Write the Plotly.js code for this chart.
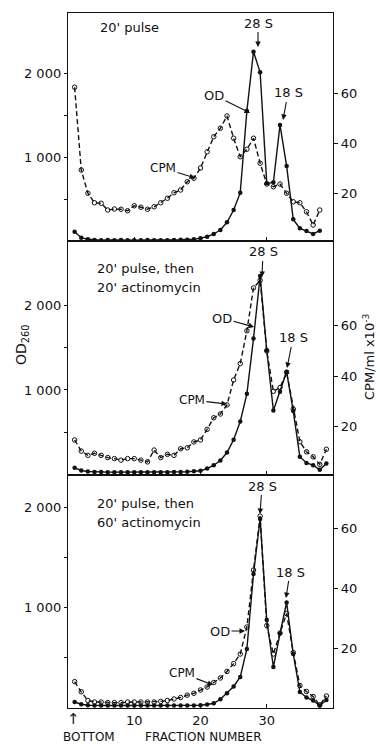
<!DOCTYPE html>
<html>
<head>
<meta charset="utf-8">
<script src="https://cdn.plot.ly/plotly-3.0.1.min.js"></script>
<style>html,body{margin:0;padding:0;background:#fff;}#chart{width:380px;height:746px;}</style>
</head>
<body>
<div id="chart"></div>
<script>
// ---- Data (fraction number, OD260, CPM/ml x10^-3) ----
const fractions = [1,2,3,4,5,6,7,8,9,10,11,12,13,14,15,16,17,18,19,20,21,22,23,24,25,26,27,28,29,30,31,32,33,34,35,36,37,38,39];

// Panel 1: 20' pulse (fractions 1-38)
const p1Fractions = fractions.slice(0, 38);
const p1OD  = [122,51,32,24,22,24,22,24,22,22,22,24,22,22,22,24,26,28,34,44,63,95,142,233,379,584,1550,2252,2008,694,706,1385,899,268,162,130,95,134];
const p1CPM = [62.3,29.2,19.9,16.1,15.9,13.2,13.6,13.5,12.9,14.9,14.3,13.5,14.5,16.1,17.9,20.1,21.2,24.5,25.9,30,36.5,42.5,45.9,50.8,41.9,34.5,37.5,41.9,31.9,23.6,22.5,23.6,19.9,16.5,16.1,12.5,7.2,13.2];

// Panel 2: 20' pulse, then 20' actinomycin (fractions 1-39)
const p2Fractions = fractions;
const p2OD  = [79,47,35,30,30,28,28,28,28,28,28,28,28,28,28,30,30,33,38,45,70,110,165,260,412,627,955,1608,2350,1470,757,980,1215,750,210,137,110,55,130];
const p2CPM = [14.7,10.3,8.6,9.4,8.6,7.7,7.3,6.7,7.3,7.3,6.7,6,10.7,7.7,9,8.6,11.2,11.6,13.9,14.7,18.9,23.5,25,28.6,38.5,45,58,75,78,50,34,35.5,41.5,27,14,10,8,5,11];

// Panel 3: 20' pulse, then 60' actinomycin (fractions 1-39)
const p3Fractions = fractions;
const p3OD  = [50,28,18,15,15,15,15,15,15,15,15,15,15,15,15,15,15,15,15,18,25,37,77,137,205,300,580,1330,1880,870,400,735,1045,530,150,95,65,15,70];
const p3CPM = [8.8,5.4,2.5,2,2,1.8,1.8,1.8,2,2,2,2,2,2.2,2.5,3,3.5,4.3,4.9,6,7,8.5,10,12.2,14.8,18,27,46,64,27.5,18,25,31.5,18.5,7.5,5.5,3.8,1,4];

// Axis ticks / labels
const xTickVals = [10, 20, 30];
const xTickText = ['10', '20', '30'];
const odTickVals = [1000, 2000];
const odTickText = ['1 000', '2 000'];
const odMinorTickVals = [500, 1500];
const cpmTickVals = [20, 40, 60];
const cpmTickText = ['20', '40', '60'];

// ---- Geometry helpers (pixel -> paper) ----
const W = 380, H = 746;
const L = 68, R = 333, T = 13, B = 708;
const px = x => (x - L) / (R - L);
const py = y => (B - y) / (B - T);

const FONT = 'DejaVu Sans, Liberation Sans, sans-serif';
const black = '#111';

function odTrace(x, y, xa, ya) {
  return {x: x, y: y, xaxis: xa, yaxis: ya, type: 'scatter', mode: 'lines+markers',
    line: {color: black, width: 1.4}, marker: {symbol: 'circle', size: 4.5, color: black},
    showlegend: false, hoverinfo: 'skip'};
}
function cpmTrace(x, y, xa, ya) {
  return {x: x, y: y, xaxis: xa, yaxis: ya, type: 'scatter', mode: 'lines+markers',
    line: {color: black, width: 1.4, dash: '5px,3px'},
    marker: {symbol: 'circle-open', size: 4.5, color: black, line: {width: 1, color: black}},
    showlegend: false, hoverinfo: 'skip'};
}

const data = [
  cpmTrace(p1Fractions, p1CPM, 'x', 'y2'),
  odTrace(p1Fractions, p1OD, 'x', 'y'),
  cpmTrace(p2Fractions, p2CPM, 'x2', 'y4'),
  odTrace(p2Fractions, p2OD, 'x2', 'y3'),
  cpmTrace(p3Fractions, p3CPM, 'x3', 'y6'),
  odTrace(p3Fractions, p3OD, 'x3', 'y5')
];

const d1 = [py(241), 1], d2 = [py(475), py(241)], d3 = [0, py(475)];

function xAxis(anchor, labels) {
  return {domain: [0, 1], anchor: anchor, range: [0, 40], showgrid: false, zeroline: false,
    showline: true, mirror: true, linecolor: black, linewidth: 1.2,
    ticks: 'inside', ticklen: 4, tickwidth: 1, tickcolor: black,
    tickvals: xTickVals, ticktext: xTickText, showticklabels: labels,
    tickfont: {family: FONT, size: 13, color: black}};
}
function odAxis(domain, range, anchor) {
  return {domain: domain, anchor: anchor, range: range, showgrid: false, zeroline: false,
    showline: true, linecolor: black, linewidth: 1.2,
    ticks: 'outside', ticklen: 3, tickwidth: 1, tickcolor: black,
    tickvals: odTickVals, ticktext: odTickText,
    minor: {tickvals: odMinorTickVals, ticks: 'outside', ticklen: 3, tickwidth: 1, tickcolor: black, showgrid: false},
    tickfont: {family: FONT, size: 13, color: black}};
}
function cpmAxis(domain, range, anchor, over) {
  return {domain: domain, anchor: anchor, overlaying: over, side: 'right', range: range,
    showgrid: false, zeroline: false, showline: true, linecolor: black, linewidth: 1.2,
    ticks: 'outside', ticklen: 4, tickwidth: 1, tickcolor: black,
    tickvals: cpmTickVals, ticktext: cpmTickText,
    tickfont: {family: FONT, size: 13, color: black}};
}

function label(text, x, y, size, anchor) {
  return {xref: 'paper', yref: 'paper', x: px(x), y: py(y), text: text, showarrow: false,
    xanchor: anchor || 'center', yanchor: 'middle', font: {family: FONT, size: size || 12, color: black}};
}
function arrowLabel(text, tx, ty, hx, hy, size) {
  return {xref: 'paper', yref: 'paper', x: px(hx), y: py(hy), ax: tx - hx, ay: ty - hy,
    text: text, showarrow: true, arrowhead: 2, arrowsize: 1, arrowwidth: 1.1, arrowcolor: black,
    standoff: 0, startstandoff: 0, font: {family: FONT, size: size || 13, color: black}};
}

const annotations = [
  // Panel 1
  label("20' pulse", 98, 28, 13, 'left'),
  arrowLabel('28 S', 258, 23, 258, 47),
  arrowLabel('18 S', 288, 93, 283, 120),
  arrowLabel('OD', 214, 95, 250, 113),
  arrowLabel('CPM', 163, 168, 195, 178, 12),
  // Panel 2
  label("20' pulse, then", 95, 268, 13, 'left'),
  label("20' actinomycin", 95, 287, 13, 'left'),
  arrowLabel('28 S', 263, 252, 262, 277),
  arrowLabel('18 S', 293, 338, 287, 368),
  arrowLabel('OD', 222, 318, 254, 327),
  arrowLabel('CPM', 192, 400, 227, 404, 12),
  // Panel 3
  label("20' pulse, then", 95, 503, 13, 'left'),
  label("60' actinomycin", 95, 522, 13, 'left'),
  arrowLabel('28 S', 262, 486, 260, 514),
  arrowLabel('18 S', 290, 572, 286, 598),
  arrowLabel('OD', 220, 631, 245, 631),
  arrowLabel('CPM', 182, 673, 213, 685, 12),
  // Bottom
  label('\u2191', 73, 719, 15),
  label('BOTTOM', 89, 737, 12),
  label('FRACTION NUMBER', 203, 737, 12),
  // Axis titles
  Object.assign(label('OD<sub>260</sub>', 22, 345, 14), {textangle: -90}),
  Object.assign(label('CPM/ml x10<sup>-3</sup>', 369, 357, 13), {textangle: -90})
];

const layout = {
  width: W, height: H,
  margin: {l: L, r: W - R, t: T, b: H - B, pad: 0},
  paper_bgcolor: '#fff', plot_bgcolor: '#fff',
  showlegend: false,
  xaxis: xAxis('y', false),
  xaxis2: xAxis('y3', false),
  xaxis3: xAxis('y5', true),
  yaxis: odAxis(d1, [12, 2710], 'x'),
  yaxis2: cpmAxis(d1, [0.8, 92], 'x', 'y'),
  yaxis3: odAxis(d2, [-6, 2763], 'x2'),
  yaxis4: cpmAxis(d2, [0.8, 93.6], 'x2', 'y3'),
  yaxis5: odAxis(d3, [-10, 2320], 'x3'),
  yaxis6: cpmAxis(d3, [0, 77.7], 'x3', 'y5'),
  annotations: annotations
};

Plotly.newPlot('chart', data, layout, {staticPlot: true, displayModeBar: false});
</script>
</body>
</html>
